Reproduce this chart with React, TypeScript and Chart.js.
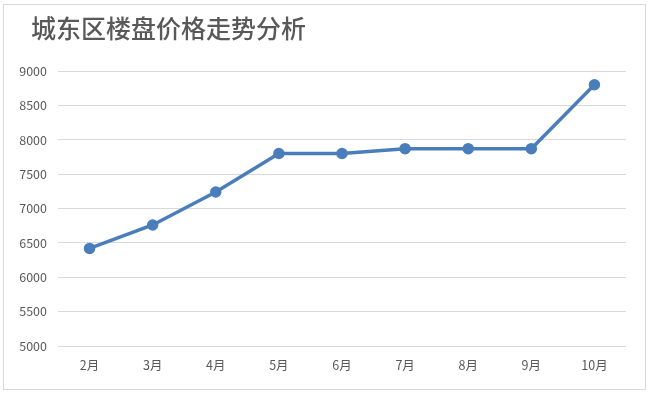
import React, { useEffect, useRef } from "react";
import { Chart, registerables } from "chart.js";

Chart.register(...registerables);

const titleText = "城东区楼盘价格走势分析";
const categories = ["2月", "3月", "4月", "5月", "6月", "7月", "8月", "9月", "10月"];
const prices = [6420, 6760, 7240, 7800, 7800, 7870, 7870, 7870, 8800];
const yMin = 5000;
const yMax = 9000;
const yStep = 500;

const FONT = "'Noto Sans CJK SC', 'Noto Sans', sans-serif";

const framePlugin = {
  id: "frame",
  beforeDraw(chart: any) {
    const ctx = chart.ctx;
    ctx.save();
    ctx.fillStyle = "#ffffff";
    ctx.fillRect(0, 0, chart.width, chart.height);
    ctx.strokeStyle = "#d9d9d9";
    ctx.lineWidth = 1;
    ctx.strokeRect(3.5, 4.5, 642, 385);
    ctx.restore();
  },
  afterDraw(chart: any) {
    const ctx = chart.ctx;
    ctx.save();
    ctx.fillStyle = "#595959";
    ctx.font = `500 25px ${FONT}`;
    ctx.textBaseline = "middle";
    ctx.textAlign = "left";
    ctx.fillText(titleText, 31, 28);
    ctx.restore();
  },
};

export default function App() {
  const ref = useRef<HTMLCanvasElement | null>(null);
  useEffect(() => {
    document.body.style.margin = "0";
    const canvas = ref.current;
    if (!canvas) return;
    const chart = new Chart(canvas, {
      type: "line",
      data: {
        labels: categories,
        datasets: [
          {
            data: prices,
            borderColor: "#4a7ebb",
            backgroundColor: "#4a7ebb",
            borderWidth: 3.5,
            pointRadius: 4,
            pointBackgroundColor: "#4a7ebb",
            pointBorderColor: "#4a7ebb",
            tension: 0,
            fill: false,
          },
        ],
      },
      options: {
        animation: false,
        responsive: false,
        maintainAspectRatio: false,
        layout: { padding: { left: 0, right: 24, top: 71, bottom: 0 } },
        plugins: {
          legend: { display: false },
          title: { display: false },
          tooltip: { enabled: false },
        },
        scales: {
          x: {
            offset: true,
            grid: { display: false, drawTicks: false },
            border: { display: false },
            ticks: {
              color: "#595959",
              font: { family: FONT, size: 12.5 },
              padding: 12,
              maxRotation: 0,
            },
            afterFit(scale: any) {
              scale.height = 50;
            },
          },
          y: {
            min: yMin,
            max: yMax,
            grid: { color: "#d9d9d9", lineWidth: 1, drawTicks: false },
            border: { display: false },
            ticks: {
              stepSize: yStep,
              color: "#595959",
              font: { family: FONT, size: 12.5 },
              padding: 11,
              callback: (v: any) => String(v),
            },
            afterFit(scale: any) {
              scale.width = 58;
            },
          },
        },
      },
      plugins: [framePlugin],
    });
    return () => chart.destroy();
  }, []);
  return <canvas ref={ref} width={650} height={396} style={{ display: "block" }} />;
}
